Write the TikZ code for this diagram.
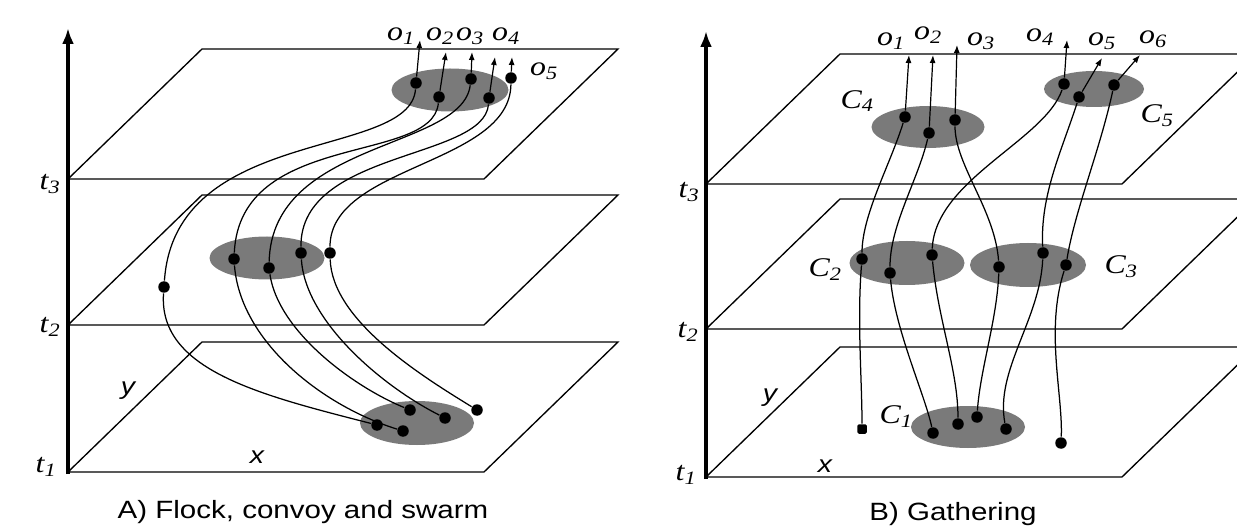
\documentclass[tikz,border=0pt]{standalone}
\usepackage{fontspec}
\setmainfont{Liberation Serif}
\setsansfont{Liberation Sans}
\usetikzlibrary{arrows.meta, shapes.geometric}

% text in this figure is a bit wider than the font
\newcommand{\xwide}[1]{\scalebox{1.18}[1]{#1}}

\begin{document}
\begin{tikzpicture}[x=1pt,y=1pt,line width=1.2pt]

	\tikzset{plane st/.style={line width=1.35pt},
		axis st/.style={line width=3.4pt,-{Latex[length=16pt,width=12pt]}},
		blob st/.style={ellipse, fill=black!52, draw=none, inner sep=0pt},
		dot st/.style={circle, fill=black, inner sep=0pt, minimum size=11.5pt},
		traj st/.style={line width=1.25pt},
		out st/.style={line width=1.2pt,-{Latex[length=8pt,width=6pt]}},
		lbl st/.style={inner sep=0pt, font=\fontsize{27}{27}\selectfont\itshape},
		xy st/.style={inner sep=0pt, font=\fontsize{24}{24}\selectfont\sffamily\itshape},
		cap st/.style={inner sep=0pt, anchor=base, font=\fontsize{25}{25}\selectfont\sffamily}}

	\useasboundingbox (0,0) rectangle (1237,-529);
	\fill[white] (0,0) rectangle (1237,-529);

	%%% A) flock, convoy and swarm
	\draw[plane st] (68,-472) -- (484,-472) -- (618,-342) -- (202,-342) -- cycle;
	\draw[plane st] (68,-325) -- (484,-325) -- (618,-195) -- (202,-195) -- cycle;
	\draw[plane st] (68,-179) -- (484,-179) -- (618,-49) -- (202,-49) -- cycle;
	\draw[axis st] (68,-474) -- (68,-28);

	\node[lbl st] (lt1) at (46,-467) {\xwide{t\textsubscript{1}}};
	\node[lbl st] (lt2) at (50,-327) {\xwide{t\textsubscript{2}}};
	\node[lbl st] (lt3) at (50,-184) {\xwide{t\textsubscript{3}}};
	\node[xy st] (lx) at (257,-457) {\xwide{x}};
	\node[xy st] (ly) at (128,-391) {\xwide{y}};

	\node[blob st, minimum width=117pt, minimum height=43pt] (fct) at (450,-90) {};
	\node[blob st, minimum width=115pt, minimum height=43pt] (fcm) at (267,-258) {};
	\node[blob st, minimum width=114pt, minimum height=44pt] (fcb) at (417,-423) {};

	\node[dot st] (ft1) at (416,-83) {};
	\node[dot st] (ft2) at (439,-97) {};
	\node[dot st] (ft3) at (471,-79) {};
	\node[dot st] (ft4) at (489,-98) {};
	\node[dot st] (ft5) at (511,-78) {};

	\node[dot st] (fm0) at (164,-287) {};
	\node[dot st] (fm1) at (234,-259) {};
	\node[dot st] (fm2) at (269,-268) {};
	\node[dot st] (fm3) at (301,-253) {};
	\node[dot st] (fm4) at (330,-253) {};

	\node[dot st] (fb1) at (377,-425) {};
	\node[dot st] (fb2) at (403,-431) {};
	\node[dot st] (fb3) at (410,-410) {};
	\node[dot st] (fb4) at (445,-418) {};
	\node[dot st] (fb5) at (477,-410) {};

	\draw[traj st] (ft1) .. controls (410,-160) and (175,-125) .. (fm0)
		.. controls (158,-370) and (260,-395) .. (fb1);
	\draw[traj st] (ft2) .. controls (432,-165) and (240,-130) .. (fm1)
		.. controls (240,-340) and (320,-405) .. (fb2);
	\draw[traj st] (ft3) .. controls (462,-150) and (272,-140) .. (fm2)
		.. controls (278,-330) and (350,-385) .. (fb3);
	\draw[traj st] (ft4) .. controls (484,-160) and (300,-150) .. (fm3)
		.. controls (305,-320) and (380,-385) .. (fb4);
	\draw[traj st] (ft5) .. controls (510,-165) and (330,-165) .. (fm4)
		.. controls (332,-320) and (420,-375) .. (fb5);

	\coordinate (fo1) at (420,-40);
	\coordinate (fo2) at (446,-52);
	\coordinate (fo3) at (472,-52);
	\coordinate (fo4) at (495,-57);
	\coordinate (fo5) at (512,-57);
	\draw[out st] (ft1) -- (fo1);
	\draw[out st] (ft2) -- (fo2);
	\draw[out st] (ft3) -- (fo3);
	\draw[out st] (ft4) -- (fo4);
	\draw[out st] (ft5) -- (fo5);

	\node[lbl st] (fl1) at (401,-36) {\xwide{o\textsubscript{1}}};
	\node[lbl st] (fl2) at (440,-36) {\xwide{o\textsubscript{2}}};
	\node[lbl st] (fl3) at (470,-36) {\xwide{o\textsubscript{3}}};
	\node[lbl st] (fl4) at (506,-36) {\xwide{o\textsubscript{4}}};
	\node[lbl st] (fl5) at (544,-71) {\xwide{o\textsubscript{5}}};

	\node[cap st] (capa) at (303,-518) {\xwide{A) Flock, convoy and swarm}};

	%%% B) gathering
	\draw[plane st] (706,-477) -- (1122,-477) -- (1256,-347) -- (840,-347) -- cycle;
	\draw[plane st] (706,-329) -- (1122,-329) -- (1256,-199) -- (840,-199) -- cycle;
	\draw[plane st] (706,-184) -- (1122,-184) -- (1256,-54) -- (840,-54) -- cycle;
	\draw[axis st] (706,-479) -- (706,-31);

	\node[lbl st] (gt1) at (686,-475) {\xwide{t\textsubscript{1}}};
	\node[lbl st] (gt2) at (688,-332) {\xwide{t\textsubscript{2}}};
	\node[lbl st] (gt3) at (689,-192) {\xwide{t\textsubscript{3}}};
	\node[xy st] (gx) at (825,-466) {\xwide{x}};
	\node[xy st] (gy) at (770,-398) {\xwide{y}};

	\node[blob st, minimum width=113pt, minimum height=42pt] (c4) at (928,-127) {};
	\node[blob st, minimum width=100pt, minimum height=36pt] (c5) at (1094,-89) {};
	\node[blob st, minimum width=115pt, minimum height=44pt] (c2) at (907,-263) {};
	\node[blob st, minimum width=116pt, minimum height=44pt] (c3) at (1028,-265) {};
	\node[blob st, minimum width=114pt, minimum height=42pt] (c1) at (968,-427) {};

	\node[lbl st] (lc4) at (857,-101) {\xwide{C\textsubscript{4}}};
	\node[lbl st] (lc5) at (1157,-116) {\xwide{C\textsubscript{5}}};
	\node[lbl st] (lc2) at (825,-270) {\xwide{C\textsubscript{2}}};
	\node[lbl st] (lc3) at (1121,-267) {\xwide{C\textsubscript{3}}};
	\node[lbl st] (lc1) at (896,-417) {\xwide{C\textsubscript{1}}};

	\node[dot st] (g4a) at (905,-117) {};
	\node[dot st] (g4b) at (929,-133) {};
	\node[dot st] (g4c) at (955,-120) {};
	\node[dot st] (g5a) at (1064,-84) {};
	\node[dot st] (g5b) at (1079,-97) {};
	\node[dot st] (g5c) at (1114,-85) {};

	\node[dot st] (g2a) at (862,-259) {};
	\node[dot st] (g2b) at (890,-273) {};
	\node[dot st] (g2c) at (932,-255) {};
	\node[dot st] (g3a) at (999,-267) {};
	\node[dot st] (g3b) at (1043,-253) {};
	\node[dot st] (g3c) at (1066,-265) {};

	\node[dot st, rectangle, rounded corners=1.5pt, minimum size=9.5pt] (gl) at (862,-429) {};
	\node[dot st] (g1a) at (933,-433) {};
	\node[dot st] (g1b) at (958,-424) {};
	\node[dot st] (g1c) at (977,-417) {};
	\node[dot st] (g1d) at (1006,-429) {};
	\node[dot st] (gr) at (1061,-443) {};

	\draw[traj st] (g4a) .. controls (890,-165) and (862,-215) .. (g2a)
		.. controls (857,-320) and (862,-380) .. (gl);
	\draw[traj st] (g4b) .. controls (918,-180) and (890,-225) .. (g2b)
		.. controls (895,-330) and (925,-395) .. (g1a);
	\draw[traj st] (g5a) .. controls (1045,-140) and (935,-180) .. (g2c)
		.. controls (938,-320) and (958,-370) .. (g1b);
	\draw[traj st] (g4c) .. controls (955,-165) and (995,-210) .. (g3a)
		.. controls (997,-320) and (980,-370) .. (g1c);
	\draw[traj st] (g5b) .. controls (1062,-150) and (1040,-195) .. (g3b)
		.. controls (1040,-320) and (995,-370) .. (g1d);
	\draw[traj st] (g5c) .. controls (1100,-150) and (1075,-210) .. (g3c)
		.. controls (1045,-330) and (1063,-395) .. (gr);

	\coordinate (go1) at (909,-55);
	\coordinate (go2) at (933,-55);
	\coordinate (go3) at (957,-45);
	\coordinate (go4) at (1067,-40);
	\coordinate (go5) at (1102,-58);
	\coordinate (go6) at (1140,-55);
	\draw[out st] (g4a) -- (go1);
	\draw[out st] (g4b) -- (go2);
	\draw[out st] (g4c) -- (go3);
	\draw[out st] (g5a) -- (go4);
	\draw[out st] (g5b) -- (go5);
	\draw[out st] (g5c) -- (go6);

	\node[lbl st] (gl1) at (891,-41) {\xwide{o\textsubscript{1}}};
	\node[lbl st] (gl2) at (928,-35) {\xwide{o\textsubscript{2}}};
	\node[lbl st] (gl3) at (981,-41) {\xwide{o\textsubscript{3}}};
	\node[lbl st] (gl4) at (1040,-37) {\xwide{o\textsubscript{4}}};
	\node[lbl st] (gl5) at (1102,-41) {\xwide{o\textsubscript{5}}};
	\node[lbl st] (gl6) at (1153,-39) {\xwide{o\textsubscript{6}}};

	\node[cap st] (capb) at (953,-520) {\xwide{B) Gathering}};

\end{tikzpicture}
\end{document}
